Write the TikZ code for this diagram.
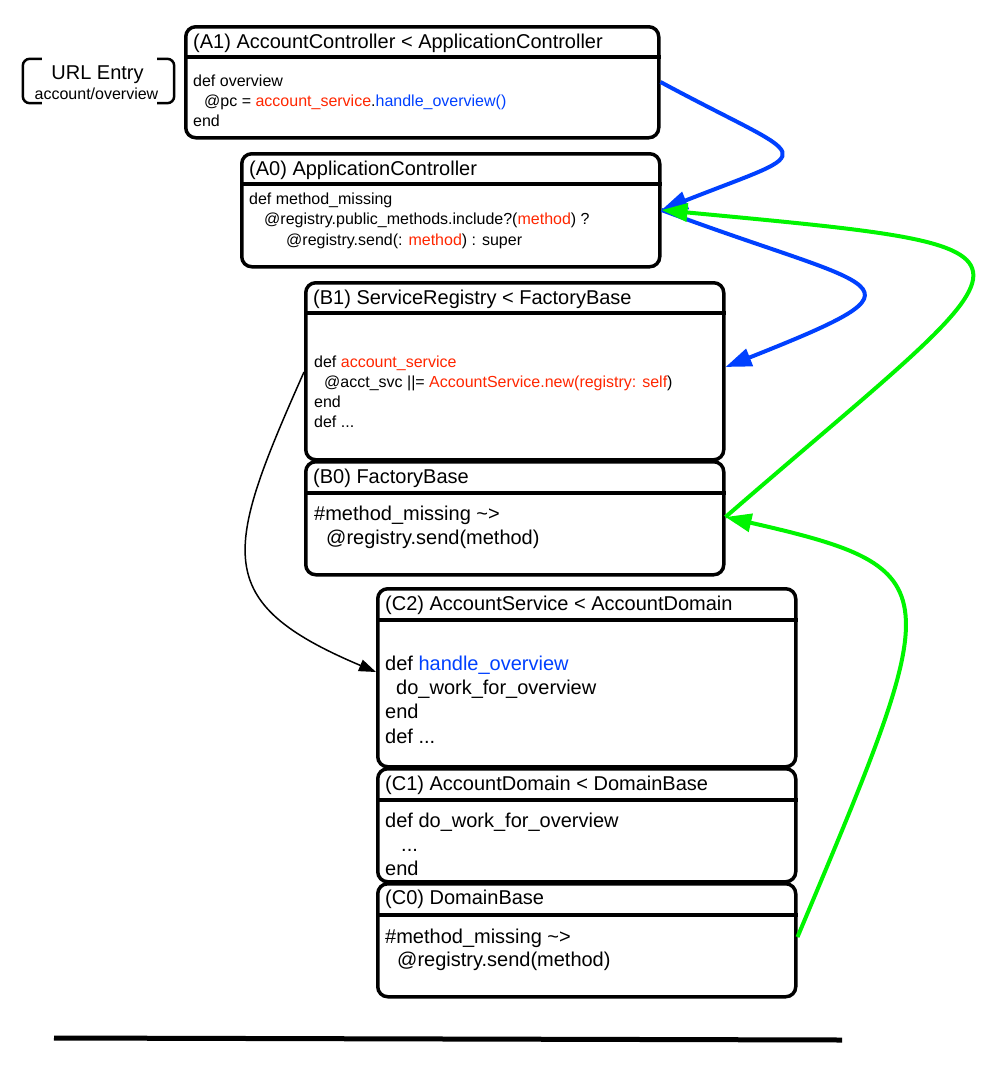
\documentclass[tikz,border=0pt]{standalone}
\usepackage{fontspec}
\setmainfont{Liberation Sans}
\usetikzlibrary{arrows.meta}

\definecolor{codered}{RGB}{255,38,0}
\definecolor{callblue}{RGB}{0,64,255}
\definecolor{lookgreen}{RGB}{0,245,0}

\tikzset{
  classbox/.style={draw, line width=3.5pt, rounded corners=10pt, anchor=north west, inner sep=0pt, minimum width=418pt},
  divider/.style={line width=3.5pt},
  titletext/.style={anchor=base west, inner sep=0pt, font=\fontsize{20}{24}\selectfont},
  smallcode/.style={anchor=base west, inner sep=0pt, font=\fontsize{16}{20}\selectfont},
  bigcode/.style={anchor=base west, inner sep=0pt, font=\fontsize{20}{24}\selectfont},
  bracket/.style={line width=2.5pt, rounded corners=7pt},
  callarrow/.style={callblue, line width=4pt, -{Triangle[length=26pt,width=18pt]}},
  lookarrow/.style={lookgreen, line width=4pt, -{Triangle[length=26pt,width=18pt]}},
  linkarrow/.style={line width=1.5pt, -{Triangle[length=17pt,width=12pt]}},
}

\begin{document}
\begin{tikzpicture}[x=1pt,y=-1pt]
        \useasboundingbox (0,0) rectangle (996,1066);

        % entry point
        \node[inner sep=0pt, minimum width=151pt, minimum height=44pt] (url) at (98.5,81) {};
        \node[anchor=base, inner sep=0pt, font=\fontsize{20}{24}\selectfont] (urltitle) at (97.5,79) {URL Entry};
        \node[anchor=base, inner sep=0pt, font=\fontsize{16}{20}\selectfont] (urlpath) at (96.5,99) {account/overview};
        \draw[bracket] ([xshift=19pt]url.north west) -- (url.north west) -- (url.south west) -- ([xshift=19pt]url.south west);
        \draw[bracket] ([xshift=-17pt]url.north east) -- (url.north east) -- (url.south east) -- ([xshift=-17pt]url.south east);

        % boxes
        \node[classbox, minimum width=473pt, minimum height=111pt] (a1) at (184,25) {};
        \node[classbox, minimum height=113pt] (a0) at (240,152) {};
        \node[classbox, minimum height=177pt] (b1) at (304,281) {};
        \node[classbox, minimum height=113pt] (b0) at (304,460) {};
        \node[classbox, minimum height=178pt] (c2) at (376,587) {};
        \node[classbox, minimum height=113pt] (c1) at (376,767) {};
        \node[classbox, minimum height=113pt] (c0) at (376,882) {};

        \draw[divider] ([yshift=-32pt]a1.north west) -- ([yshift=-32pt]a1.north east);
        \draw[divider] ([yshift=-32pt]a0.north west) -- ([yshift=-32pt]a0.north east);
        \draw[divider] ([yshift=-32pt]b1.north west) -- ([yshift=-32pt]b1.north east);
        \draw[divider] ([yshift=-33pt]b0.north west) -- ([yshift=-33pt]b0.north east);
        \draw[divider] ([yshift=-33pt]c2.north west) -- ([yshift=-33pt]c2.north east);
        \draw[divider] ([yshift=-33pt]c1.north west) -- ([yshift=-33pt]c1.north east);
        \draw[divider] ([yshift=-33pt]c0.north west) -- ([yshift=-33pt]c0.north east);

        % titles
        \node[titletext] (a1title) at (193,48) {(A1) AccountController < ApplicationController};
        \node[titletext] (a0title) at (249,175) {(A0) ApplicationController};
        \node[titletext] (b1title) at (313,304) {(B1) ServiceRegistry < FactoryBase};
        \node[titletext] (b0title) at (313,483) {(B0) FactoryBase};
        \node[titletext] (c2title) at (385,610) {(C2) AccountService < AccountDomain};
        \node[titletext] (c1title) at (385,790) {(C1) AccountDomain < DomainBase};
        \node[titletext] (c0title) at (385,904) {(C0) DomainBase};

        % code lines
        \node[smallcode] (a1l1) at (193,86) {def overview};
        \node[smallcode] (a1l2) at (204,106) {@pc = \textcolor{codered}{account\_service}.\textcolor{callblue}{handle\_overview()}};
        \node[smallcode] (a1l3) at (193,126) {end};

        \node[smallcode] (a0l1) at (249,204) {def method\_missing};
        \node[smallcode] (a0l2) at (264,224) {@registry.public\_methods.include?(\textcolor{codered}{method}) ?};
        \node[smallcode] (a0l3) at (286,245) {@registry.send(: \textcolor{codered}{method}) : super};

        \node[smallcode] (b1l1) at (314,367) {def \textcolor{codered}{account\_service}};
        \node[smallcode] (b1l2) at (324,387) {@acct\_svc ||= \textcolor{codered}{AccountService.new(registry: self})};
        \node[smallcode] (b1l3) at (314,407) {end};
        \node[smallcode] (b1l4) at (314,427) {def ...};

        \node[bigcode] (b0l1) at (314,520) {\#method\_missing \textasciitilde{}>};
        \node[bigcode] (b0l2) at (326,544) {@registry.send(method)};

        \node[bigcode] (c2l1) at (385,670) {def \textcolor{callblue}{handle\_overview}};
        \node[bigcode] (c2l2) at (396,694) {do\_work\_for\_overview};
        \node[bigcode] (c2l3) at (385,718) {end};
        \node[bigcode] (c2l4) at (385,743) {def ...};

        \node[bigcode] (c1l1) at (385,827) {def do\_work\_for\_overview};
        \node[bigcode] (c1l2) at (401,851) {...};
        \node[bigcode] (c1l3) at (385,875) {end};

        \node[bigcode] (c0l1) at (385,943) {\#method\_missing \textasciitilde{}>};
        \node[bigcode] (c0l2) at (397,966) {@registry.send(method)};

        % calls
        \draw[linkarrow] (b1.west |- 0,372) .. controls +(-80,180) and +(-166,-70) .. (c2.west |- 0,672);
        \draw[callarrow] (a1.east |- 0,82) .. controls +(154,83) and +(162,-64) .. (a0.east |- 0,210);
        \draw[callarrow] (a0.east |- 0,210) .. controls +(219,82) and +(217,-86) .. (b1.east |- 0,367);
        \draw[lookarrow] (b0.east |- 0,517) .. controls +(318,-276) and +(420,40) .. (a0.east |- 0,210);
        \draw[lookarrow] (c0.east |- 0,937) .. controls +(148,-352) and +(228,52) .. (b0.east |- 0,517);

        \draw[line width=5pt] (54,1038) -- (842,1040);
\end{tikzpicture}
\end{document}
